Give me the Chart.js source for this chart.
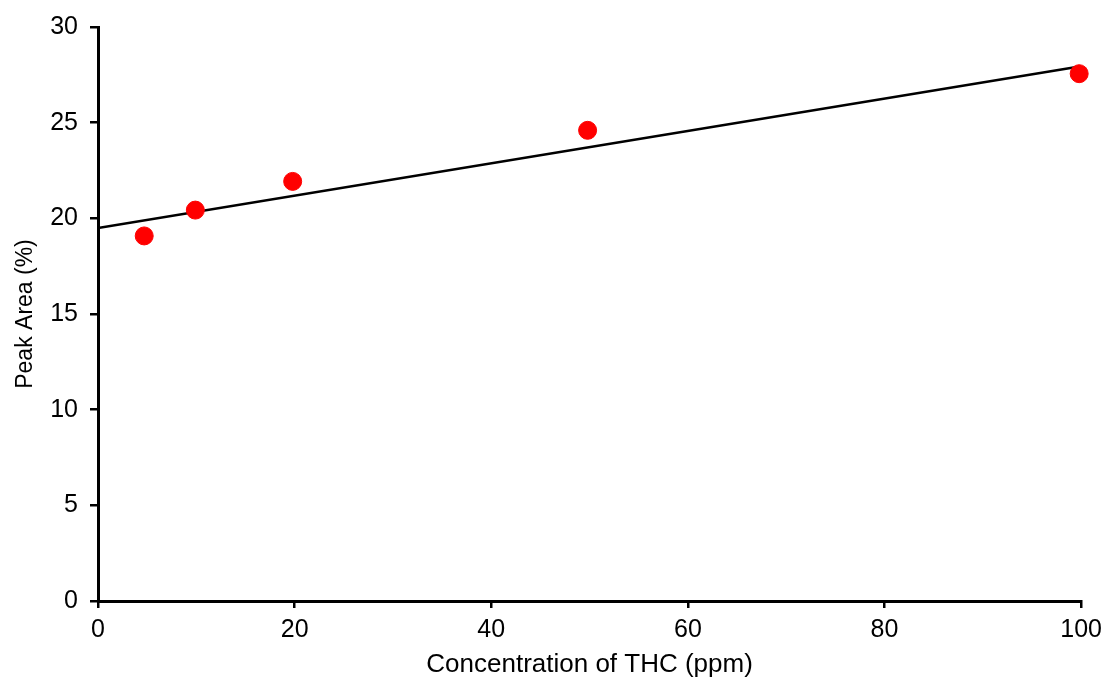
<!DOCTYPE html>
<html>
<head>
<meta charset="utf-8">
<script src="https://cdn.jsdelivr.net/npm/chart.js@4/dist/chart.umd.min.js"></script>
<style>
  html, body { margin: 0; padding: 0; background: #fff; }
  #wrap { width: 1109px; height: 680px; }
</style>
</head>
<body>
<div id="wrap"><canvas id="grafico" width="1109" height="680"></canvas></div>
<script>
// dados
const concentracao = [4.7, 9.9, 19.8, 49.8, 99.8];
const areaPico = [19.08, 20.43, 21.93, 24.6, 27.56];
// linha de tendência (extremos)
const tendenciaX = [0, 100];
const tendenciaY = [19.5, 27.95];

const familia = '"Liberation Sans", Arial, sans-serif';
const fonteEixo = { family: familia, size: 25 };

const ctx = document.getElementById('grafico').getContext('2d');
new Chart(ctx, {
  type: 'scatter',
  data: {
    datasets: [
      {
        label: 'Peak Area',
        data: concentracao.map((x, i) => ({ x, y: areaPico[i] })),
        backgroundColor: '#ff0000',
        borderColor: '#ff0000',
        pointRadius: 9,
        pointHoverRadius: 9,
        clip: false,
        order: 1
      },
      {
        label: 'Linear',
        type: 'line',
        data: tendenciaX.map((x, i) => ({ x, y: tendenciaY[i] })),
        borderColor: '#000',
        borderWidth: 2.5,
        pointRadius: 0,
        fill: false,
        order: 2
      }
    ]
  },
  options: {
    responsive: false,
    animation: false,
    layout: { padding: { top: 26, right: 25, left: 0, bottom: 0 } },
    plugins: { legend: { display: false }, tooltip: { enabled: false } },
    scales: {
      x: {
        type: 'linear',
        min: 0, max: 100,
        ticks: { stepSize: 20, color: '#000', font: fonteEixo, padding: 7 },
        grid: { display: true, drawOnChartArea: false, drawTicks: true, tickLength: 7, color: '#000', lineWidth: 2.5 },
        border: { display: true, color: '#000', width: 3 },
        title: { display: true, text: 'Concentration of THC (ppm)', color: '#000', font: { family: familia, size: 26 }, padding: { top: 3, bottom: 0 } },
        afterFit: (s) => { s.height = 79; }
      },
      y: {
        min: 0, max: 30,
        ticks: { stepSize: 5, color: '#000', font: fonteEixo, padding: 12 },
        grid: { display: true, drawOnChartArea: false, drawTicks: true, tickLength: 8, color: '#000', lineWidth: 2.5 },
        border: { display: true, color: '#000', width: 3 },
        title: { display: true, text: 'Peak Area (%)', color: '#000', font: { family: familia, size: 23 }, padding: { top: 12, bottom: 0 } },
        afterFit: (s) => { s.width = 98; }
      }
    }
  }
});
</script>
</body>
</html>
